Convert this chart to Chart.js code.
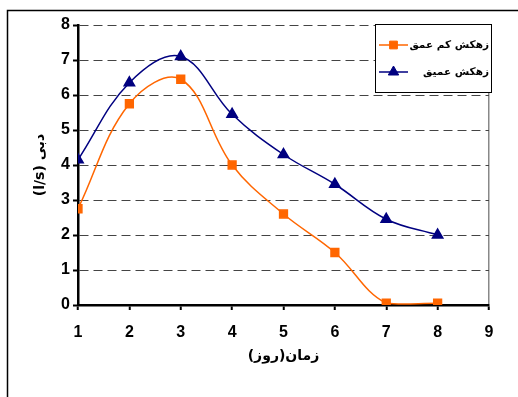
<!DOCTYPE html>
<html>
<head>
<meta charset="utf-8">
<script src="https://cdn.jsdelivr.net/npm/chart.js@4.4.1/dist/chart.umd.min.js"></script>
<style>
  html, body { margin: 0; padding: 0; background: #fff; }
  #wrap { position: relative; width: 518px; height: 397px; }
</style>
</head>
<body>
<div id="wrap"><canvas id="c" width="518" height="397"></canvas></div>
<script>
// Days since start of the test (x) and discharge in l/s (y) for each drain
const days = [1, 2, 3, 4, 5, 6, 7, 8];
const shallowDrain = [2.75, 5.75, 6.45, 4.0, 2.6, 1.5, 0.05, 0.05];
const deepDrain = [4.15, 6.35, 7.1, 5.45, 4.3, 3.45, 2.45, 2.0];
const seriesNames = ['زهکش کم عمق', 'زهکش عمیق'];
const xTitle = 'زمان(روز)';
const yTitle = '(l/s) دبی';

const toPoints = (xs, ys) => xs.map((x, i) => ({ x: x, y: ys[i] }));

const tickFont = { family: '"Liberation Sans", Arial, sans-serif', size: 16, weight: 'bold' };
const arabicFont = '"DejaVu Sans", "Liberation Serif", serif';

// Outer frame (left and top edges) and a boxed legend with line + marker samples
const framePlugin = {
  id: 'frame',
  beforeDraw(chart) {
    const ctx = chart.ctx;
    ctx.save();
    ctx.fillStyle = '#fff';
    ctx.fillRect(0, 0, chart.width, chart.height);
    ctx.strokeStyle = '#000';
    ctx.lineWidth = 1.5;
    ctx.beginPath();
    ctx.moveTo(7.5, chart.height);
    ctx.lineTo(7.5, 10.5);
    ctx.lineTo(chart.width, 10.5);
    ctx.stroke();
    ctx.restore();
  },
  afterDraw(chart) {
    const ctx = chart.ctx;
    const box = { x: 375, y: 24, w: 116, h: 68 };
    ctx.save();
    ctx.fillStyle = '#fff';
    ctx.fillRect(box.x, box.y, box.w, box.h);
    ctx.strokeStyle = '#000';
    ctx.lineWidth = 1;
    ctx.strokeRect(box.x + 0.5, box.y + 0.5, box.w, box.h);
    chart.data.datasets.forEach((ds, i) => {
      const cy = box.y + 21 + i * 27;
      ctx.strokeStyle = ds.borderColor;
      ctx.lineWidth = ds.borderWidth;
      ctx.beginPath();
      ctx.moveTo(box.x + 4, cy);
      ctx.lineTo(box.x + 33, cy);
      ctx.stroke();
      ctx.fillStyle = ds.pointBackgroundColor;
      ctx.strokeStyle = ds.pointBorderColor;
      ctx.lineWidth = 1;
      Chart.helpers.drawPoint(ctx, {
        pointStyle: ds.pointStyle,
        radius: ds.pointRadius,
        rotation: 0,
        borderWidth: 1
      }, box.x + 18.5, cy);
      ctx.fillStyle = '#000';
      ctx.font = 'bold 10.5px ' + arabicFont;
      ctx.textAlign = 'right';
      ctx.textBaseline = 'middle';
      ctx.fillText(ds.label, box.x + box.w - 2, cy);
    });
    ctx.restore();
  }
};

new Chart(document.getElementById('c'), {
  type: 'line',
  data: {
    datasets: [
      {
        label: seriesNames[0],
        data: toPoints(days, shallowDrain),
        borderColor: '#FF6600',
        backgroundColor: '#FF6600',
        pointBackgroundColor: '#FF6600',
        pointBorderColor: '#FF6600',
        borderWidth: 1.5,
        pointStyle: 'rect',
        pointRadius: 5.5,
        tension: 0.38,
        fill: false
      },
      {
        label: seriesNames[1],
        data: toPoints(days, deepDrain),
        borderColor: '#000080',
        backgroundColor: '#000080',
        pointBackgroundColor: '#000080',
        pointBorderColor: '#000080',
        borderWidth: 1.5,
        pointStyle: 'triangle',
        pointRadius: 6,
        tension: 0.38,
        fill: false
      }
    ]
  },
  options: {
    responsive: false,
    animation: false,
    layout: { padding: { left: 12, top: 25, right: 29, bottom: 0 } },
    plugins: {
      legend: { display: false },
      tooltip: { enabled: false }
    },
    scales: {
      x: {
        type: 'linear',
        min: 1,
        max: 9,
        afterFit: s => { s.height = 92; },
        ticks: { stepSize: 1, color: '#000', font: tickFont, padding: 13 },
        grid: {
          color: c => (c.tick && c.tick.value === 9 ? '#888' : 'rgba(0,0,0,0)'),
          tickColor: '#000',
          tickLength: 5,
          tickWidth: 2,
          lineWidth: 1.5
        },
        border: { color: '#000', width: 2.5 },
        title: {
          display: true,
          text: xTitle,
          color: '#000',
          font: { family: arabicFont, size: 14, weight: 'bold' },
          padding: { top: 0, bottom: 32 }
        }
      },
      y: {
        min: 0,
        max: 8,
        afterFit: s => { s.width = 66; },
        ticks: { stepSize: 1, color: '#000', font: tickFont, padding: 3 },
        grid: {
          color: c => (c.tick && c.tick.value === 0 ? 'rgba(0,0,0,0)' : '#444'),
          tickColor: '#000',
          tickLength: 5,
          tickWidth: 2,
          lineWidth: 1
        },
        border: { color: '#000', width: 2.5, dash: [9, 5] },
        title: {
          display: true,
          text: yTitle,
          color: '#000',
          font: { family: arabicFont, size: 14, weight: 'bold' },
          padding: { top: 20 }
        }
      }
    }
  },
  plugins: [framePlugin]
});
</script>
</body>
</html>
